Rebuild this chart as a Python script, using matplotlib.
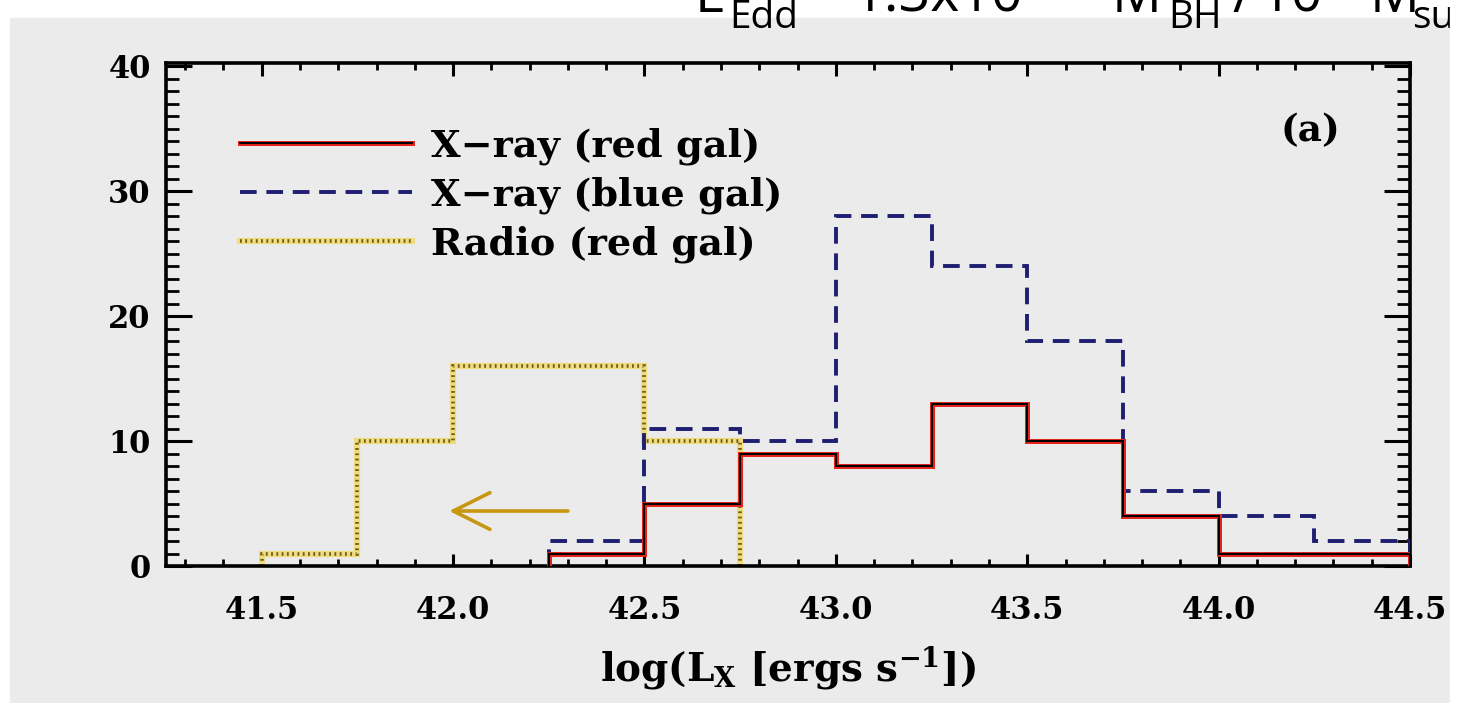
import matplotlib
matplotlib.use("Agg")
import matplotlib.pyplot as plt
from matplotlib.patches import Rectangle
from matplotlib.lines import Line2D
from matplotlib.legend_handler import HandlerTuple
from matplotlib.ticker import MultipleLocator

# ---------------- data ----------------
bin_edges_xray = [42.25, 42.5, 42.75, 43.0, 43.25, 43.5, 43.75, 44.0, 44.25, 44.5]
counts_xray_red = [1, 5, 9, 8, 13, 10, 4, 1, 1]
counts_xray_blue = [2, 11, 10, 28, 24, 18, 6, 4, 2]
bin_edges_radio = [41.5, 41.75, 42.0, 42.25, 42.5, 42.75]
counts_radio_red = [1, 10, 16, 16, 10]
legend_labels = ["X\u2212ray (red gal)", "X\u2212ray (blue gal)", "Radio (red gal)"]
xticks = [41.5, 42.0, 42.5, 43.0, 43.5, 44.0, 44.5]
yticks = [0, 10, 20, 30, 40]
arrow_x_start, arrow_x_end, arrow_y = 42.30, 41.99, 4.4
panel_label = "(a)"
xlabel = r"log(L$_\mathbf{X}$ [ergs s$^\mathbf{-1}$])"
# header text (partly cut off at the top of the image): L_Edd ~ 1.3x10^38 M_BH/10^8 M_sun
header_pieces = ["L", "Edd", "~", "1.3x10", "38", "M", "BH", "/", "10", "8", "M", "sun"]
header_kinds = ["main", "sub", "main", "main", "sup", "main", "sub", "main", "main", "sup", "main", "sub"]

# ---------------- style ----------------
W, H = 1457, 703
plt.rcParams['lines.scale_dashes'] = False
serif = dict(family='DejaVu Serif', weight='bold')
gray = '#ebebeb'
red, black, navy = '#e8251c', 'black', '#1e1e72'
gold_light, gold_dark = '#f0dc80', '#6e5c12'

fig = plt.figure(figsize=(W / 100, H / 100), dpi=100, facecolor='white')
fig.patches.append(Rectangle((10 / W, 0), (1450 - 10) / W, (H - 18) / H,
                             transform=fig.transFigure, color=gray, zorder=-10))

ax = fig.add_axes([166 / W, (H - 566) / H, (1410 - 166) / W, (566 - 63) / H])
ax.patch.set_alpha(0)

red_kw = [dict(color=red, lw=3.6, zorder=4), dict(color=black, lw=1.5, zorder=5)]
blue_kw = dict(color=navy, lw=2.8, linestyle=(0, (12, 7)), zorder=3)
radio_kw = [dict(color=gold_light, lw=4.5, zorder=2),
            dict(color=gold_dark, lw=2.6, linestyle=(0, (1.3, 2.5)), zorder=2.5)]

for kw in red_kw:
    ax.stairs(counts_xray_red, bin_edges_xray, baseline=0, **kw)
ax.stairs(counts_xray_blue, bin_edges_xray, baseline=0, **blue_kw)
for kw in radio_kw:
    ax.stairs(counts_radio_red, bin_edges_radio, baseline=0, **kw)

ax.annotate('', xy=(arrow_x_end, arrow_y), xytext=(arrow_x_start, arrow_y),
            arrowprops=dict(arrowstyle='->,head_length=1.2,head_width=0.6',
                            color='#c8960f', lw=2.6, mutation_scale=22,
                            shrinkA=0, shrinkB=0))

ax.set_xlim(41.25, 44.5)
ax.set_ylim(0, 40.25)
ax.set_xticks(xticks)
ax.set_xticklabels([f"{t:.1f}" for t in xticks])
ax.set_yticks(yticks)
ax.set_yticklabels([str(t) for t in yticks])
ax.xaxis.set_minor_locator(MultipleLocator(0.1))
ax.yaxis.set_minor_locator(MultipleLocator(1))
ax.tick_params(axis='x', which='major', direction='in', length=9, width=2.2,
               top=True, pad=21, labelsize=22)
ax.tick_params(axis='x', which='minor', direction='in', length=5, width=2.0, top=True)
ax.tick_params(axis='y', which='major', direction='in', length=19, width=2.2,
               right=True, pad=11, labelsize=22)
ax.tick_params(axis='y', which='minor', direction='in', length=9.5, width=2.0, right=True)
for lab in ax.get_xticklabels() + ax.get_yticklabels():
    lab.set_fontfamily('DejaVu Serif')
    lab.set_fontweight('bold')
for s in ax.spines.values():
    s.set_linewidth(2.6)

ax.set_xlabel(xlabel, fontsize=28, labelpad=13, math_fontfamily='dejavuserif', **serif)

ax.text(0.920, 0.865, panel_label, transform=ax.transAxes, fontsize=27,
        ha='center', va='center', **serif)

h_red = tuple(Line2D([], [], **kw) for kw in red_kw)
h_blue = Line2D([], [], **blue_kw)
h_radio = tuple(Line2D([], [], **kw) for kw in radio_kw)
leg = ax.legend([h_red, h_blue, h_radio], legend_labels,
                handler_map={tuple: HandlerTuple(ndivide=1, pad=0)},
                loc='upper left', bbox_to_anchor=(0.0595, 0.872), frameon=False,
                borderpad=0, borderaxespad=0, handlelength=4.5, handletextpad=0.5,
                labelspacing=0.3, prop=dict(family='DejaVu Serif', weight='bold', size=27.5))

# header text, laid out piece by piece (main / subscript / superscript)
head_x = [695, 729, 800, 852, 1030, 1112, 1168, 1232, 1259, 1327, 1370, 1412]
kind_style = {"main": (40, 12), "sub": (28, 28), "sup": (28, -12)}
for piece, kind, x in zip(header_pieces, header_kinds, head_x):
    size, base = kind_style[kind]
    fig.text(x / W, (H - base) / H, piece, fontsize=size, family='Open Sans',
             va='baseline', ha='left', zorder=3)

fig.patches.append(Rectangle((1450 / W, 0), 1 - 1450 / W, 1, transform=fig.transFigure,
                             color='white', zorder=20))

fig.savefig('out.png', dpi=100, facecolor='white')
